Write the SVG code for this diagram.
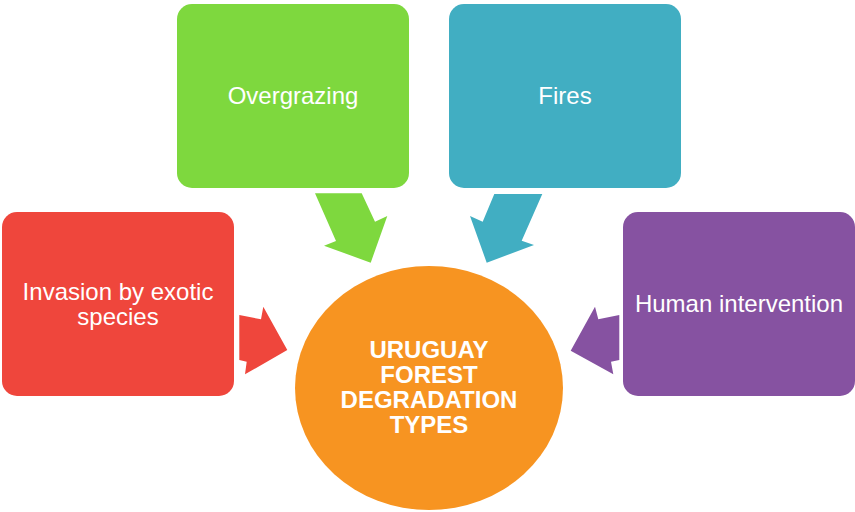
<svg xmlns="http://www.w3.org/2000/svg" width="855" height="512" viewBox="0 0 855 512">
<style>
.lbl{font-family:"Liberation Sans",Arial,sans-serif;font-size:24px;fill:#fff;text-anchor:middle}
.ctr{font-family:"Liberation Sans",Arial,sans-serif;font-size:24px;font-weight:bold;fill:#fff;text-anchor:middle}
</style>
<rect width="855" height="512" fill="#fff"/>
<g id="connectors">
<polygon fill="#EF463C" points="239.3,315 261,319.3 263.3,306.7 287.3,350 245,374.3 246.7,361.7 239.3,360"/>
<polygon fill="#7ED83E" points="315,193.3 361.7,193.3 375,221.7 387.3,216 370.7,262.7 324,245.7 336,241"/>
<polygon fill="#41AEC2" points="542.3,194 494.3,194 482.7,221.7 470,216 486.7,262.7 534,245 521.7,240.7"/>
<polygon fill="#8652A1" points="619.3,315 598.3,319.3 595,306.7 570.7,350.7 613.3,374.3 611,361.7 619.3,360"/>
</g>
<g id="invasion">
<rect x="2" y="212" width="232" height="184" rx="15" fill="#EF463C"/>
<text class="lbl" x="118" y="300"><tspan x="118" y="300">Invasion by exotic</tspan><tspan x="118" y="325">species</tspan></text>
</g>
<g id="overgrazing">
<rect x="177" y="4" width="232" height="184" rx="15" fill="#7ED83E"/>
<text class="lbl" x="293" y="104">Overgrazing</text>
</g>
<g id="fires">
<rect x="449" y="4" width="232" height="184" rx="15" fill="#41AEC2"/>
<text class="lbl" x="565" y="104">Fires</text>
</g>
<g id="human">
<rect x="623" y="212" width="232" height="184" rx="15" fill="#8652A1"/>
<text class="lbl" x="739" y="312">Human intervention</text>
</g>
<g id="center">
<ellipse cx="429" cy="388" rx="134" ry="122" fill="#F79421"/>
<text class="ctr" x="429" y="358"><tspan x="429" y="358">URUGUAY</tspan><tspan x="429" y="383">FOREST</tspan><tspan x="429" y="408">DEGRADATION</tspan><tspan x="429" y="433">TYPES</tspan></text>
</g>
</svg>
